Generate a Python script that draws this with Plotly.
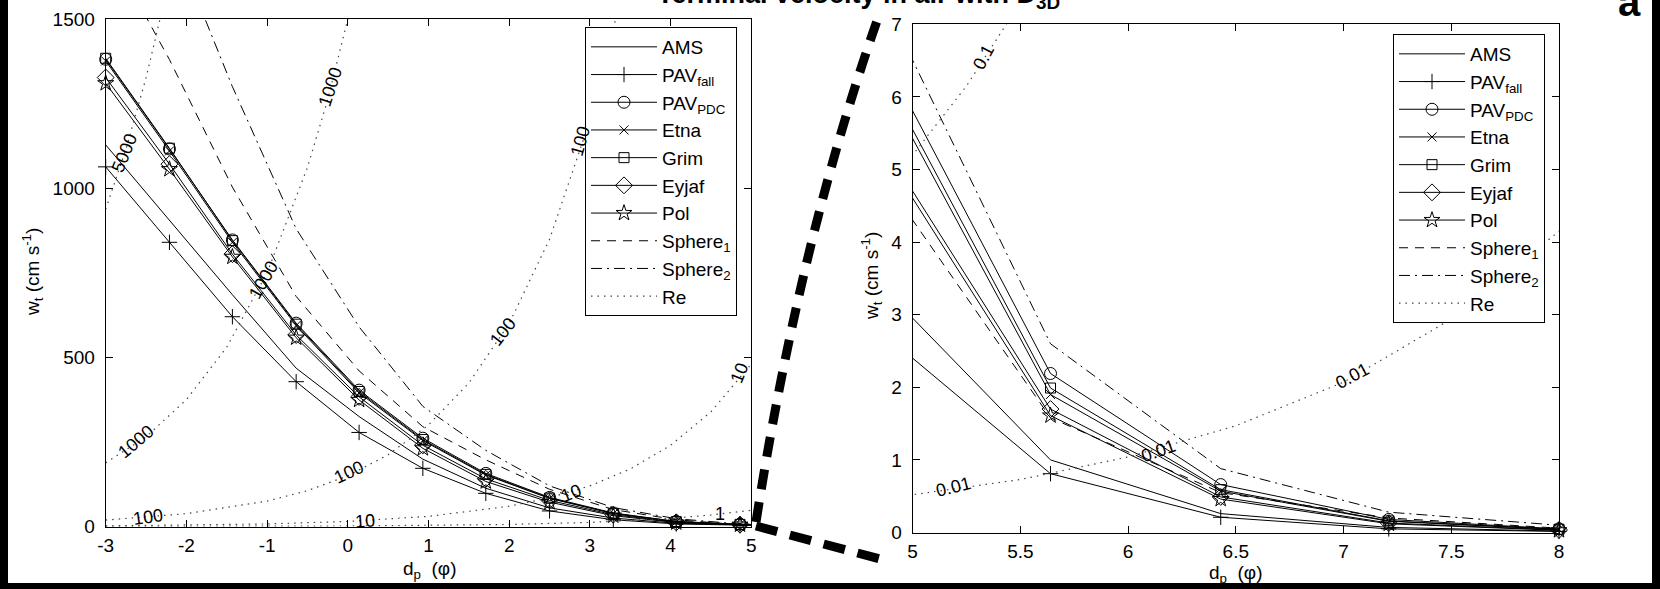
import plotly.graph_objects as go

W, H = 1660, 589
FONT = "Liberation Sans, Arial, Helvetica, sans-serif"

# ---------------- data ----------------
phi = [-3.0, -2.21, -1.43, -0.64, 0.14, 0.93, 1.71, 2.5, 3.29, 4.07, 4.86, 5.64, 6.43, 7.21, 8.0]

ams      = [1128, 905, 685, 468, 325, 199, 113, 55, 25, 9.5, 3.38, 1.0, 0.26, 0.07, 0.02]
pav_fall = [1063, 840, 620, 428, 278, 172, 98, 46, 20, 7.5, 2.75, 0.81, 0.21, 0.05, 0.015]
pav_pdc  = [1381, 1116, 847, 601, 403, 261, 157, 86, 40, 15, 6.6, 2.19, 0.66, 0.18, 0.05]
etna     = [1376, 1110, 840, 594, 395, 254, 152, 83, 38, 14, 6.2, 1.9, 0.57, 0.155, 0.042]
grim     = [1384, 1118, 845, 598, 399, 257, 154, 84, 39, 14.5, 6.33, 1.99, 0.59, 0.16, 0.045]
eyjaf    = [1327, 1071, 805, 566, 383, 240, 141, 77, 35, 12.5, 5.36, 1.70, 0.49, 0.13, 0.035]
pol      = [1310, 1056, 797, 558, 374, 231, 133, 72, 32, 11.5, 5.26, 1.61, 0.46, 0.12, 0.03]
sphere1  = [1724, 1380, 1003, 680, 460, 295, 197, 110, 50, 20, 4.9, 1.58, 0.55, 0.2, 0.06]
sphere2  = [2400, 1760, 1300, 880, 590, 355, 225, 120, 56, 23, 7.36, 2.6, 0.88, 0.28, 0.1]

# Reynolds-number iso-lines (dotted)
re5000_phi = [-3.0, -2.75, -2.5, -2.25]
re5000_w   = [938, 1115, 1326, 1577]
re1000_phi = [-3.0, -2.5, -2.0, -1.5, -1.0, -0.5, -0.25, 0.0, 0.25]
re1000_w   = [188, 265, 375, 530, 750, 1061, 1261, 1500, 1784]
re100_phi  = [-3.0, -2.0, -1.0, -0.5, 0.0, 0.5, 1.0, 1.5, 2.0, 2.5, 3.0, 3.25, 3.5]
re100_w    = [19, 38, 75, 106, 150, 212, 300, 424, 600, 849, 1200, 1427, 1697]
re10_phi   = [-3.0, -2.0, -1.0, 0.0, 1.0, 2.0, 2.5, 3.0, 3.5, 4.0, 4.5, 5.0]
re10_w     = [1.9, 3.8, 7.5, 15, 30, 60, 85, 120, 170, 240, 339, 480]
re1_phi    = [-3.0, 0.0, 2.0, 3.0, 4.0, 4.5, 5.0]
re1_w      = [0.2, 1.5, 6, 12, 24, 34, 48]
re01_phi   = [4.86, 5.0, 5.25, 5.5, 5.75]
re01_w     = [4.7, 5.2, 6.15, 7.3, 8.7]
re001_phi  = [4.86, 5.0, 5.5, 6.0, 6.5, 7.0, 7.5, 8.0]
re001_w    = [0.475, 0.52, 0.73, 1.04, 1.47, 2.07, 2.94, 4.15]

# tick labels
left_xticks  = [-3, -2, -1, 0, 1, 2, 3, 4, 5]
left_xlabels = ["-3", "-2", "-1", "0", "1", "2", "3", "4", "5"]
left_yticks  = [0, 500, 1000, 1500]
right_xticks = [5, 5.5, 6, 6.5, 7, 7.5, 8]
right_xlabels = ["5", "5.5", "6", "6.5", "7", "7.5", "8"]
right_yticks = [0, 1, 2, 3, 4, 5, 6, 7]

# contour labels: text, phi, w, angle
left_labels = [
    ("5000", -2.77, 1105, -68), ("1000", -2.63, 250, -40), ("1000", -1.05, 730, -60),
    ("1000", -0.22, 1300, -72), ("100", 1.92, 575, -52), ("100", 2.88, 1140, -74),
    ("100", 0.02, 160, -25), ("100", -2.47, 29, -8), ("10", 0.21, 17, -4),
    ("10", 2.77, 100, -22), ("10", 4.85, 455, -68), ("1", 4.61, 38, 0),
]
right_labels = [
    ("0.1", 5.33, 6.55, -62), ("0.01", 5.19, 0.62, -14),
    ("0.01", 6.14, 1.12, -20), ("0.01", 7.04, 2.15, -28),
]

series_names = ["AMS", "PAV<sub>fall</sub>", "PAV<sub>PDC</sub>", "Etna", "Grim",
                "Eyjaf", "Pol", "Sphere<sub>1</sub>", "Sphere<sub>2</sub>"]
series_vals = [ams, pav_fall, pav_pdc, etna, grim, eyjaf, pol, sphere1, sphere2]

# ---------------- styles ----------------
styles = [
    dict(symbol=None, size=0, dash="solid"),
    dict(symbol="cross-thin-open", size=11, dash="solid"),
    dict(symbol="circle-open", size=12, dash="solid"),
    dict(symbol="x-thin-open", size=9, dash="solid"),
    dict(symbol="square-open", size=10, dash="solid"),
    dict(symbol="diamond-open", size=13, dash="solid"),
    dict(symbol="star-open", size=12, dash="solid"),
    dict(symbol=None, size=0, dash="9px,7px"),
    dict(symbol=None, size=0, dash="11px,5px,2px,5px"),
]
RE_DASH = "1.5px,5px"
RE_COLOR = "#444444"

# ---------------- geometry (pixels) ----------------
L = dict(x0=105.7, x1=751.3, yt=19.0, yb=526.5)
R = dict(x0=912.6, x1=1559.0, yt=24.3, yb=532.5)


def px(x):
    return x / W


def py(y):
    return 1 - y / H


fig = go.Figure()

axes = [("x", "y", -3, 5), ("x2", "y2", 5, 8)]
for name, vals, st in zip(series_names, series_vals, styles):
    for xa, ya, lo, hi in axes:
        fig.add_trace(go.Scatter(x=phi, y=vals, mode="lines", xaxis=xa, yaxis=ya,
                                 line=dict(color="black", width=1, dash=st["dash"]),
                                 showlegend=False, hoverinfo="skip"))
        if st["symbol"]:
            pts = [(p, v) for p, v in zip(phi, vals) if lo <= p <= hi]
            fig.add_trace(go.Scatter(x=[p for p, _ in pts], y=[v for _, v in pts],
                                     mode="markers", xaxis=xa, yaxis=ya, cliponaxis=False,
                                     marker=dict(symbol=st["symbol"], size=st["size"], color="black",
                                                 line=dict(color="black", width=1)),
                                     showlegend=False, hoverinfo="skip"))

for rx, ry, xa, ya in [(re5000_phi, re5000_w, "x", "y"), (re1000_phi, re1000_w, "x", "y"),
                       (re100_phi, re100_w, "x", "y"), (re10_phi, re10_w, "x", "y"),
                       (re1_phi, re1_w, "x", "y"), (re01_phi, re01_w, "x2", "y2"),
                       (re001_phi, re001_w, "x2", "y2")]:
    fig.add_trace(go.Scatter(x=rx, y=ry, mode="lines", xaxis=xa, yaxis=ya,
                             line=dict(color=RE_COLOR, width=1.2, dash=RE_DASH),
                             showlegend=False, hoverinfo="skip"))

# legend-only traces (two identical legends)
for lg, xa, ya in [("legend", "x", "y"), ("legend2", "x2", "y2")]:
    for i, (name, st) in enumerate(zip(series_names, styles)):
        kw = dict(mode="lines")
        if st["symbol"]:
            kw = dict(mode="lines+markers",
                      marker=dict(symbol=st["symbol"], size=st["size"], color="black",
                                  line=dict(color="black", width=1)))
        fig.add_trace(go.Scatter(x=[None], y=[None], name=name, xaxis=xa, yaxis=ya,
                                 line=dict(color="black", width=1, dash=st["dash"]),
                                 legend=lg, legendgroup=lg + str(i), showlegend=True, **kw))
    fig.add_trace(go.Scatter(x=[None], y=[None], name="Re", xaxis=xa, yaxis=ya, mode="lines",
                             line=dict(color=RE_COLOR, width=1.2, dash=RE_DASH),
                             legend=lg, legendgroup=lg + "re", showlegend=True))

axis_common = dict(showgrid=False, zeroline=False, showline=True, linecolor="black", linewidth=1,
                   mirror="ticks", ticks="inside", ticklen=7, tickcolor="black", tickwidth=1,
                   automargin=False, tickfont=dict(family=FONT, size=19, color="black"))

LEG_FONT = dict(family=FONT, size=19, color="black")
fig.update_layout(
    width=W, height=H, margin=dict(l=0, r=0, t=0, b=0, pad=0, autoexpand=False),
    paper_bgcolor="white", plot_bgcolor="white",
    xaxis=dict(domain=[px(L["x0"]), px(L["x1"])], range=[-3, 5], tickvals=left_xticks,
               ticktext=left_xlabels, anchor="y", ticklabelstandoff=2, **axis_common),
    yaxis=dict(domain=[py(L["yb"]), py(L["yt"])], range=[0, 1500], tickvals=left_yticks,
               anchor="x", ticklabelstandoff=6, **axis_common),
    xaxis2=dict(domain=[px(R["x0"]), px(R["x1"])], range=[5, 8], tickvals=right_xticks,
                ticktext=right_xlabels, anchor="y2", ticklabelstandoff=2, **axis_common),
    yaxis2=dict(domain=[py(R["yb"]), py(R["yt"])], range=[0, 7], tickvals=right_yticks,
                anchor="x2", ticklabelstandoff=6, **axis_common),
    legend=dict(x=px(585), y=py(27), xanchor="left", yanchor="top", bgcolor="white",
                bordercolor="black", borderwidth=1, font=LEG_FONT,
                itemwidth=66, tracegroupgap=1, traceorder="normal"),
    legend2=dict(x=px(1393), y=py(34), xanchor="left", yanchor="top", bgcolor="white",
                 bordercolor="black", borderwidth=1, font=LEG_FONT,
                 itemwidth=66, tracegroupgap=1, traceorder="normal"),
)

ann = []
for t, x, y, a in left_labels:
    ann.append(dict(text=t, x=x, y=y, xref="x", yref="y", showarrow=False, textangle=a,
                    font=dict(family=FONT, size=18, color="black")))
for t, x, y, a in right_labels:
    ann.append(dict(text=t, x=x, y=y, xref="x2", yref="y2", showarrow=False, textangle=a,
                    font=dict(family=FONT, size=18, color="black")))

tf = dict(family=FONT, size=19, color="black")
ctr = dict(xref="paper", yref="paper", xanchor="center", yanchor="middle", showarrow=False, font=tf)
ann += [
    dict(text="w<sub>t</sub> (cm s<sup>-1</sup>)", x=px(33), y=py(272), textangle=-90, **ctr),
    dict(text="w<sub>t</sub> (cm s<sup>-1</sup>)", x=px(871), y=py(276), textangle=-90, **ctr),
    dict(text="d<sub>p</sub>  (φ)", x=px(430), y=py(570), **ctr),
    dict(text="d<sub>p</sub>  (φ)", x=px(1236), y=py(574), **ctr),
    dict(text="<b>Terminal velocity in air with D<sub>3D</sub></b>", x=px(655), y=py(15),
         xref="paper", yref="paper", xanchor="left", yanchor="bottom", showarrow=False,
         font=dict(family=FONT, size=27, color="black")),
    dict(text="<b>a</b>", x=px(1616), y=py(26), xref="paper", yref="paper",
         xanchor="left", yanchor="bottom", showarrow=False,
         font=dict(family=FONT, size=40, color="black")),
]
fig.update_layout(annotations=ann)

shapes = [
    # thick dashed zoom indicator
    dict(type="path", xref="paper", yref="paper", layer="above",
         path=f"M {px(756)},{py(522)} Q {px(800)},{py(240)} {px(878)},{py(18)}",
         line=dict(color="black", width=9, dash="20px,13px")),
    dict(type="path", xref="paper", yref="paper", layer="above",
         path=f"M {px(756)},{py(526)} L {px(880)},{py(559)}",
         line=dict(color="black", width=9, dash="22px,13px")),
    # black frame bands
    dict(type="rect", xref="paper", yref="paper", x0=0, x1=px(8), y0=0, y1=1,
         fillcolor="black", line=dict(width=0), layer="above"),
    dict(type="rect", xref="paper", yref="paper", x0=0, x1=1, y0=0, y1=6 / H,
         fillcolor="black", line=dict(width=0), layer="above"),
    dict(type="rect", xref="paper", yref="paper", x0=px(1652), x1=1, y0=0, y1=1,
         fillcolor="black", line=dict(width=0), layer="above"),
]
fig.update_layout(shapes=shapes)

fig.write_html("out.html")
